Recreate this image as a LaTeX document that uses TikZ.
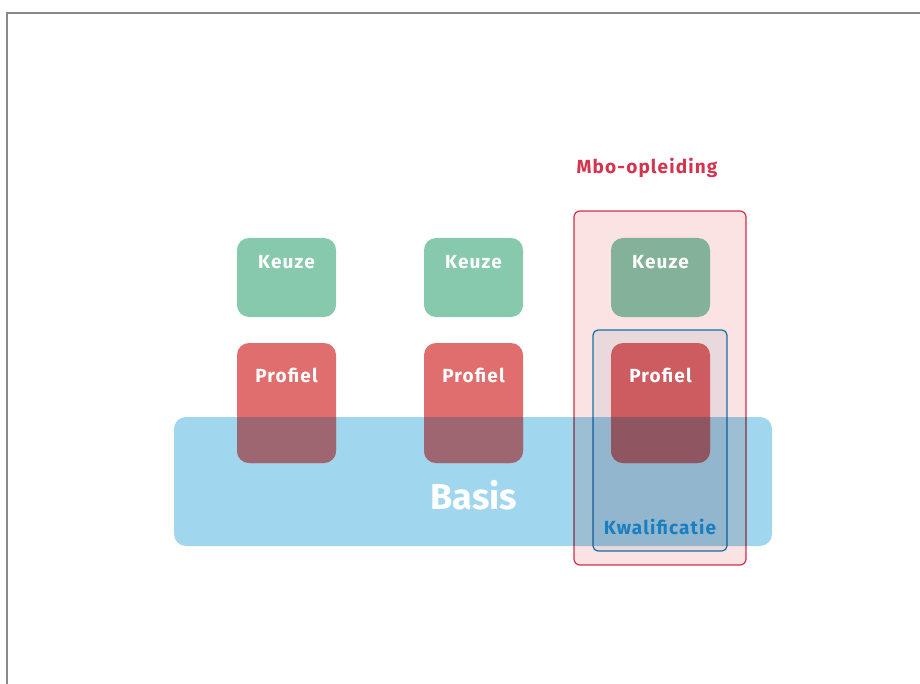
\documentclass[tikz,border=0pt]{standalone}
\usepackage{fontspec}
\setmainfont{Fira Sans}
\newfontfamily\spaced[LetterSpace=6]{Fira Sans}
\begin{document}
\definecolor{keuzegreen}{HTML}{86C9AC}
\definecolor{profielred}{HTML}{E06E6E}
\definecolor{overlapred}{HTML}{9E6670}
\definecolor{basisblue}{HTML}{A0D7EF}
\definecolor{mbofill}{HTML}{FAE3E2}
\definecolor{mbored}{HTML}{D4344E}
\definecolor{kwalfill}{HTML}{EEF4FA}
\definecolor{kwalblue}{HTML}{1A7EC0}
\definecolor{framegray}{HTML}{8A8A8A}
\begin{tikzpicture}[x=1pt,y=-1pt,
  box/.style={rounded corners=12pt},
  lbl/.style={anchor=base, text=white, font=\spaced\bfseries\fontsize{19}{19}\selectfont, inner sep=0pt}]
\useasboundingbox (0,0) rectangle (920,684);
\fill[white] (0,0) rectangle (920,684);
\draw[framegray, line width=2pt] (920,13) -- (7,13) -- (7,684);
% basis
\fill[basisblue, box] (174,417) rectangle (772,546);
% keuze and profiel boxes
\foreach \x in {237,424,611} {
  \fill[keuzegreen, box] (\x,238) rectangle ++(99,79);
  \fill[profielred, box] (\x,343) rectangle ++(99,120);
  \begin{scope}
    \clip[box] (174,417) rectangle (772,546);
    \fill[overlapred, box] (\x,343) rectangle ++(99,120);
  \end{scope}
}
% mbo and kwal
\filldraw[fill=mbofill, draw=mbored, line width=1.2pt, blend mode=multiply, rounded corners=6pt] (574,211) rectangle (746,565);
\filldraw[fill=kwalfill, draw=kwalblue, line width=1.2pt, blend mode=multiply, rounded corners=5pt] (593,330) rectangle (727,551);
% labels
\foreach \x/\n in {286.5/1,473.5/2,660.5/3} {
  \node[lbl] (k\n) at (\x,269) {Keuze};
  \node[lbl] (p\n) at (\x,382) {Profiel};
}
\node[lbl, font=\bfseries\fontsize{36}{36}\selectfont] (basis) at (474,509) {Basis};
\node[lbl, text=mbored, font=\spaced\bfseries\fontsize{19}{19}\selectfont] (mbo) at (647,174) {Mbo-opleiding};
\node[lbl, text=kwalblue, font=\spaced\bfseries\fontsize{19}{19}\selectfont] (kwal) at (660,534) {Kwalificatie};
\end{tikzpicture}
\end{document}
